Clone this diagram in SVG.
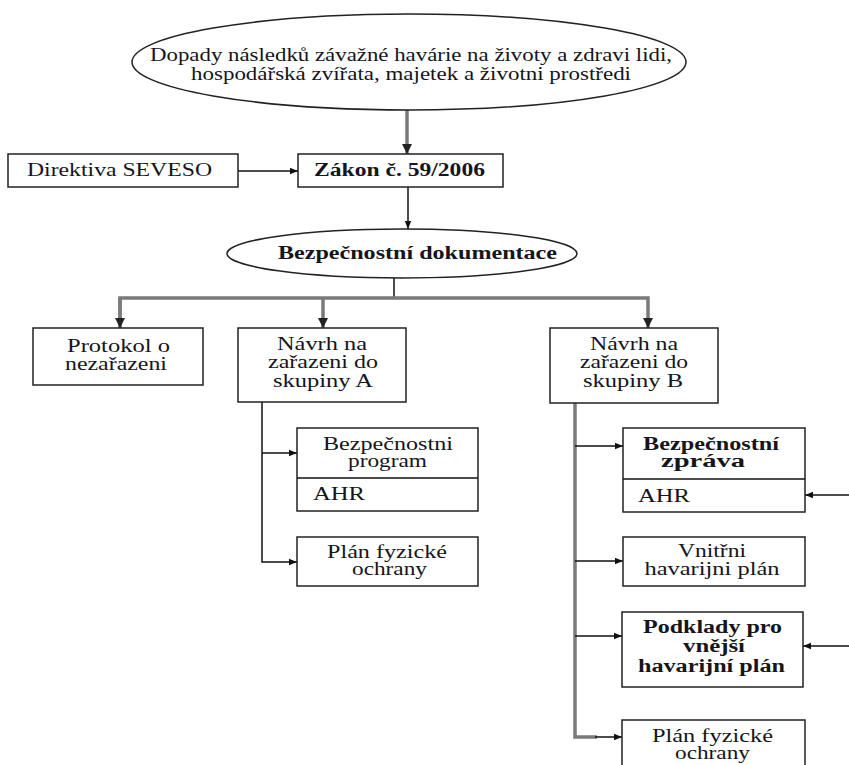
<svg xmlns="http://www.w3.org/2000/svg" width="849" height="765" viewBox="0 0 849 765">
<defs>
<style>
text{font-family:"Liberation Serif","Times New Roman",serif;font-size:18px;fill:#15151c;text-anchor:middle}
.b{font-weight:bold}
.l{text-anchor:start}
.box{fill:#fff;stroke:#222;stroke-width:1.5}
.ln{fill:none;stroke:#111;stroke-width:1.5}
.gl{fill:none;stroke:#7a7a7a;stroke-width:3.5}
</style>
<marker id="ah" viewBox="0 0 10 10" refX="10" refY="5" markerWidth="9" markerHeight="8" markerUnits="userSpaceOnUse" orient="auto"><path d="M0,1 L10,5 L0,9 z" fill="#111"/></marker>
<marker id="ahg" viewBox="0 0 10 10" refX="10" refY="5" markerWidth="10" markerHeight="10" markerUnits="userSpaceOnUse" orient="auto"><path d="M0,0 L10,5 L0,10 z" fill="#222"/></marker>
</defs>
<rect width="849" height="765" fill="#fff"/>
<g id="connectors">
<line class="gl" x1="407" y1="110" x2="407" y2="154" marker-end="url(#ahg)"/>
<line class="ln" x1="238" y1="171" x2="298" y2="171" marker-end="url(#ah)"/>
<line class="ln" x1="408" y1="187" x2="408" y2="229" marker-end="url(#ah)"/>
<line class="ln" x1="394" y1="278" x2="394" y2="298"/>
<polyline class="gl" points="120,328 120,298 648,298 648,328" marker-end="url(#ahg)"/>
<line class="gl" x1="120" y1="298" x2="120" y2="328" marker-end="url(#ahg)"/>
<line class="gl" x1="323" y1="298" x2="323" y2="328" marker-end="url(#ahg)"/>
<polyline class="ln" points="262,402 262,562 297,562" marker-end="url(#ah)"/>
<line class="ln" x1="262" y1="453" x2="297" y2="453" marker-end="url(#ah)"/>
<polyline class="gl" points="575,403 575,737 597,737"/>
<line class="ln" x1="575" y1="446" x2="623" y2="446" marker-end="url(#ah)"/>
<line class="ln" x1="575" y1="561" x2="623" y2="561" marker-end="url(#ah)"/>
<line class="ln" x1="575" y1="636" x2="622" y2="636" marker-end="url(#ah)"/>
<line class="ln" x1="595" y1="737" x2="622" y2="737" marker-end="url(#ah)"/>
<line class="ln" x1="849" y1="495" x2="805" y2="495" marker-end="url(#ah)"/>
<line class="ln" x1="849" y1="646" x2="803" y2="646" marker-end="url(#ah)"/>
</g>
<g id="n-dopady">
<ellipse class="box" cx="409" cy="62" rx="277" ry="48"/>
<text x="411" y="61" textLength="522" lengthAdjust="spacingAndGlyphs">Dopady následků závažné havárie na životy a zdravi lidi,</text>
<text x="411" y="80" textLength="440" lengthAdjust="spacingAndGlyphs">hospodářská zvířata, majetek a životni prostředi</text>
</g>
<g id="n-seveso">
<rect class="box" x="8" y="154" width="230" height="33"/>
<text x="119.5" y="176" textLength="185" lengthAdjust="spacingAndGlyphs">Direktiva SEVESO</text>
</g>
<g id="n-zakon">
<rect class="box" x="298" y="154" width="205" height="33"/>
<text class="b" x="399.5" y="176" textLength="171" lengthAdjust="spacingAndGlyphs">Zákon č. 59/2006</text>
</g>
<g id="n-dokumentace">
<ellipse class="box" cx="402" cy="253.5" rx="175" ry="24.5"/>
<text class="b" x="417.5" y="259" textLength="279" lengthAdjust="spacingAndGlyphs">Bezpečnostní dokumentace</text>
</g>
<g id="n-protokol">
<rect class="box" x="33" y="328" width="170" height="57"/>
<text x="118.5" y="352" textLength="103" lengthAdjust="spacingAndGlyphs">Protokol o</text>
<text x="116" y="370" textLength="102" lengthAdjust="spacingAndGlyphs">nezařazeni</text>
</g>
<g id="n-navrhA">
<rect class="box" x="238" y="328" width="168" height="74"/>
<text x="322" y="350" textLength="90" lengthAdjust="spacingAndGlyphs">Návrh na</text>
<text x="323" y="368" textLength="110" lengthAdjust="spacingAndGlyphs">zařazeni do</text>
<text x="323" y="387" textLength="100" lengthAdjust="spacingAndGlyphs">skupiny A</text>
</g>
<g id="n-navrhB">
<rect class="box" x="550" y="328" width="168" height="75"/>
<text x="634" y="350" textLength="88" lengthAdjust="spacingAndGlyphs">Návrh na</text>
<text x="634" y="368" textLength="108" lengthAdjust="spacingAndGlyphs">zařazeni do</text>
<text x="633" y="387" textLength="100" lengthAdjust="spacingAndGlyphs">skupiny B</text>
</g>
<g id="n-program">
<rect class="box" x="297" y="428" width="181" height="83"/>
<line class="ln" x1="297" y1="478" x2="478" y2="478"/>
<text x="388" y="450" textLength="130" lengthAdjust="spacingAndGlyphs">Bezpečnostni</text>
<text x="387.5" y="467" textLength="79" lengthAdjust="spacingAndGlyphs">program</text>
<text class="l" x="313" y="500" textLength="52" lengthAdjust="spacingAndGlyphs">AHR</text>
</g>
<g id="n-fyzA">
<rect class="box" x="297" y="537" width="181" height="49"/>
<text x="387" y="558" textLength="120" lengthAdjust="spacingAndGlyphs">Plán fyzické</text>
<text x="389.5" y="575" textLength="75" lengthAdjust="spacingAndGlyphs">ochrany</text>
</g>
<g id="n-zprava">
<rect class="box" x="623" y="428" width="182" height="84"/>
<line class="ln" x1="623" y1="479" x2="805" y2="479"/>
<text class="b" x="711" y="450" textLength="136" lengthAdjust="spacingAndGlyphs">Bezpečnostní</text>
<text class="b" x="703" y="467" textLength="84" lengthAdjust="spacingAndGlyphs">zpráva</text>
<text class="l" x="638" y="502" textLength="52" lengthAdjust="spacingAndGlyphs">AHR</text>
</g>
<g id="n-vnitrni">
<rect class="box" x="623" y="537" width="182" height="49"/>
<text x="712" y="557" textLength="68" lengthAdjust="spacingAndGlyphs">Vnitřni</text>
<text x="712" y="575" textLength="135" lengthAdjust="spacingAndGlyphs">havarijni plán</text>
</g>
<g id="n-podklady">
<rect class="box" x="622" y="612" width="181" height="75"/>
<text class="b" x="712.5" y="633" textLength="139" lengthAdjust="spacingAndGlyphs">Podklady pro</text>
<text class="b" x="714" y="652" textLength="62" lengthAdjust="spacingAndGlyphs">vnější</text>
<text class="b" x="711.5" y="672" textLength="147" lengthAdjust="spacingAndGlyphs">havarijní plán</text>
</g>
<g id="n-fyzB">
<rect class="box" x="622" y="720" width="183" height="60"/>
<text x="712.5" y="742" textLength="121" lengthAdjust="spacingAndGlyphs">Plán fyzické</text>
<text x="712.5" y="759" textLength="75" lengthAdjust="spacingAndGlyphs">ochrany</text>
</g>
</svg>
